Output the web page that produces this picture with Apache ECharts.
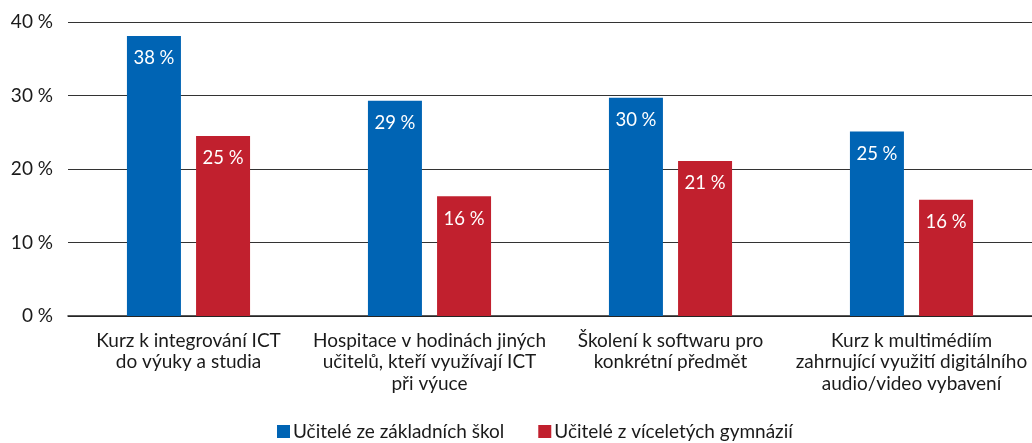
<!DOCTYPE html>
<html>
<head>
<meta charset="utf-8">
<script src="https://cdn.jsdelivr.net/npm/echarts@6/dist/echarts.min.js"></script>
<style>
  html, body { margin: 0; padding: 0; background: #fff; }
  #chart { width: 1032px; height: 443px; }
</style>
</head>
<body>
<div id="chart"></div>
<script>
const categories = [
  "Kurz k integrování ICT\ndo výuky a studia",
  "Hospitace v hodinách jiných\nučitelů, kteří využívají ICT\npři výuce",
  "Školení k softwaru pro\nkonkrétní předmět",
  "Kurz k multimédiím\nzahrnující využití digitálního\naudio/video vybavení"
];
const seriesNames = ["Učitelé ze základních škol", "Učitelé z víceletých gymnázií"];
const basicSchools = [38.1, 29.3, 29.7, 25.1];
const gymnasiums = [24.5, 16.3, 21.1, 15.8];
const yTicks = [0, 10, 20, 30, 40];

const font = "Lato, 'Open Sans', sans-serif";
const chart = echarts.init(document.getElementById("chart"));

const label = {
  show: true,
  position: "insideTop",
  distance: 13,
  color: "#fff",
  fontSize: 18.5,
  fontFamily: font,
  formatter: p => Math.round(p.value) + " %"
};

chart.setOption({
  animation: false,
  grid: { left: 68, right: 0, top: 22, bottom: 127 },
  legend: {
    bottom: -3,
    left: 272,
    itemWidth: 13,
    itemHeight: 13,
    itemGap: 34,
    icon: "rect",
    textStyle: { fontSize: 19, fontFamily: font, color: "#1a1a1a", padding: [0, 0, 0, -2] },
    data: seriesNames
  },
  xAxis: {
    type: "category",
    data: categories,
    axisLine: { lineStyle: { color: "#222", width: 1.5 } },
    axisTick: { show: false },
    axisLabel: {
      interval: 0,
      margin: 14,
      fontSize: 19,
      lineHeight: 21.5,
      fontFamily: font,
      color: "#1a1a1a"
    }
  },
  yAxis: {
    type: "value",
    min: yTicks[0],
    max: yTicks[yTicks.length - 1],
    interval: 10,
    axisLine: { show: false },
    axisTick: { show: false },
    splitLine: { lineStyle: { color: "#333", width: 1.2 } },
    axisLabel: {
      margin: 15,
      fontSize: 19,
      fontFamily: font,
      color: "#1a1a1a",
      formatter: v => v + " %"
    }
  },
  series: [
    {
      name: seriesNames[0],
      type: "bar",
      data: basicSchools,
      barWidth: 54,
      barGap: "28%",
      itemStyle: { color: "#0064b4" },
      label: label
    },
    {
      name: seriesNames[1],
      type: "bar",
      data: gymnasiums,
      barWidth: 54,
      itemStyle: { color: "#c1202e" },
      label: label
    }
  ]
});
</script>
</body>
</html>
